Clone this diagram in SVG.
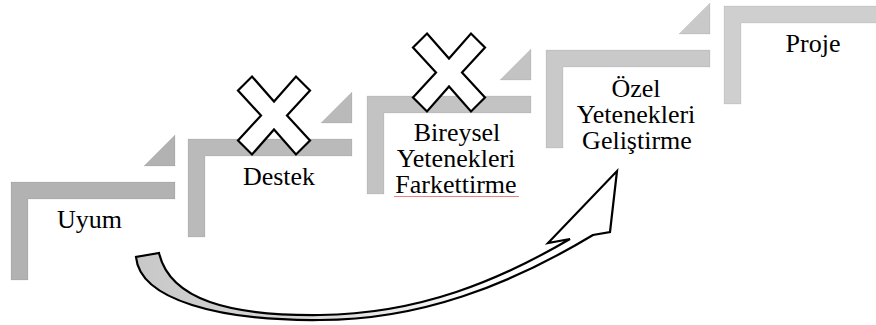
<svg xmlns="http://www.w3.org/2000/svg" width="876" height="325" viewBox="0 0 876 325">
<defs>
  <g id="step">
    <polygon points="0,0 164,0 164,17 17,17 17,98 0,98"/>
    <polygon points="133,-16 164,-47 164,-16"/>
  </g>
  <polygon id="cross" points="-22,-39 0,-14 22,-39 36,-25 13,0 36,25 22,39 0,14 -22,39 -36,25 -13,0 -36,-25"/>
  <linearGradient id="arrowFill" gradientUnits="userSpaceOnUse" x1="136" y1="0" x2="617" y2="0">
    <stop offset="0" stop-color="#c8c8c8"/>
    <stop offset="0.35" stop-color="#d8d8d8"/>
    <stop offset="0.75" stop-color="#ffffff"/>
    <stop offset="1" stop-color="#ffffff"/>
  </linearGradient>
</defs>

<g id="step-uyum">
  <use href="#step" x="11" y="182" fill="#b2b2b2" stroke="#000" stroke-opacity="0.07"/>
  <text font-family="Liberation Serif" style="font-family:'Liberation Serif',serif !important" font-size="26" text-anchor="middle" x="89.5" y="228">Uyum</text>
</g>

<g id="step-destek">
  <use href="#step" x="188" y="139" fill="#bababa" stroke="#000" stroke-opacity="0.07"/>
  <text font-family="Liberation Serif" style="font-family:'Liberation Serif',serif !important" font-size="26" text-anchor="middle" x="279" y="185">Destek</text>
</g>

<g id="step-bireysel">
  <use href="#step" x="367" y="96" fill="#c3c3c3" stroke="#000" stroke-opacity="0.07"/>
  <text font-family="Liberation Serif" style="font-family:'Liberation Serif',serif !important" font-size="26" text-anchor="middle" x="457" y="141">Bireysel</text>
  <text font-family="Liberation Serif" style="font-family:'Liberation Serif',serif !important" font-size="26" text-anchor="middle" x="456" y="167">Yetenekleri</text>
  <text font-family="Liberation Serif" style="font-family:'Liberation Serif',serif !important" font-size="26" text-anchor="middle" x="456" y="193">Farkettirme</text>
  <line x1="394" y1="196.5" x2="519" y2="196.5" stroke="#f08080" stroke-width="1"/>
</g>

<g id="step-ozel">
  <use href="#step" x="546" y="50" fill="#c9c9c9" stroke="#000" stroke-opacity="0.07"/>
  <text font-family="Liberation Serif" style="font-family:'Liberation Serif',serif !important" font-size="26" text-anchor="middle" x="636" y="97">&#214;zel</text>
  <text font-family="Liberation Serif" style="font-family:'Liberation Serif',serif !important" font-size="26" text-anchor="middle" x="636" y="123">Yetenekleri</text>
  <text font-family="Liberation Serif" style="font-family:'Liberation Serif',serif !important" font-size="26" text-anchor="middle" x="637" y="149">Geli&#351;tirme</text>
</g>

<g id="step-proje">
  <use href="#step" x="724" y="6" fill="#cfcfcf" stroke="#000" stroke-opacity="0.07"/>
  <text font-family="Liberation Serif" style="font-family:'Liberation Serif',serif !important" font-size="26" text-anchor="middle" x="813" y="52">Proje</text>
</g>

<g id="cross-destek">
  <use href="#cross" x="274" y="115.5" fill="#fff" stroke="#000" stroke-width="2.2"/>
</g>
<g id="cross-bireysel">
  <use href="#cross" x="449" y="72.5" fill="#fff" stroke="#000" stroke-width="2.2"/>
</g>

<g id="connectors">
  <path d="M159,253 C170,300 230,316 320,315 C420,314 500,280 570,239 L548,243 L617,171 L610,232 L593,235 C510,285 420,320 320,320 C220,321 140,300 136,257 Z" fill="url(#arrowFill)" stroke="#000" stroke-width="2.2" stroke-linejoin="miter"/>
</g>
</svg>
